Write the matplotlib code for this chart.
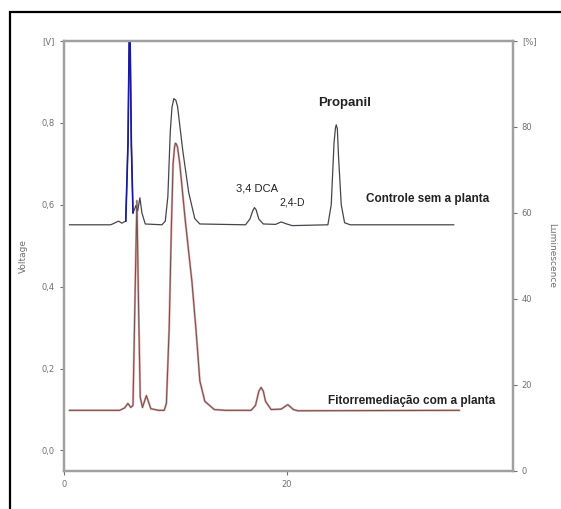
import matplotlib.pyplot as plt
from matplotlib.patches import Rectangle
import numpy as np

# retention time [min] and signal [V]
ctrl_t = [0.5, 4.2, 4.6, 4.9, 5.2, 5.55, 5.75, 5.9, 6.05, 6.2, 6.35, 6.46, 6.62,
          6.82, 7.0, 7.3, 8.8, 9.1, 9.33, 9.55, 9.7, 9.87, 10.05, 10.2, 10.67,
          11.2, 11.75, 12.2, 16.3, 16.7, 16.95, 17.1, 17.25, 17.5, 17.9, 19.0,
          19.5, 20.0, 20.5, 23.7, 24.0, 24.25, 24.38, 24.45, 24.55, 24.65, 24.9,
          25.2, 25.7, 35.0]
ctrl_v = [0.551, 0.551, 0.556, 0.560, 0.555, 0.560, 0.750, 1.100, 0.750, 0.580,
          0.590, 0.598, 0.585, 0.617, 0.580, 0.553, 0.551, 0.560, 0.620, 0.780,
          0.838, 0.859, 0.855, 0.840, 0.732, 0.630, 0.566, 0.553, 0.551, 0.565,
          0.585, 0.593, 0.588, 0.565, 0.553, 0.552, 0.558, 0.553, 0.549, 0.551,
          0.600, 0.750, 0.788, 0.795, 0.785, 0.720, 0.600, 0.556, 0.551, 0.551]

fito_t = [0.5, 5.0, 5.45, 5.74, 6.0, 6.2, 6.4, 6.55, 6.7, 6.85, 7.05, 7.4, 7.8,
          8.5, 9.0, 9.2, 9.45, 9.65, 9.8, 9.92, 10.0, 10.1, 10.2, 10.4, 10.9,
          11.5, 11.9, 12.2, 12.65, 13.5, 14.5, 16.8, 17.2, 17.5, 17.7, 17.9,
          18.1, 18.6, 19.5, 20.1, 20.6, 21.0, 35.5]
fito_v = [0.098, 0.098, 0.104, 0.115, 0.105, 0.110, 0.400, 0.610, 0.350, 0.130,
          0.105, 0.134, 0.102, 0.098, 0.098, 0.115, 0.300, 0.550, 0.700, 0.738,
          0.750, 0.748, 0.740, 0.700, 0.560, 0.410, 0.280, 0.170, 0.120, 0.100,
          0.098, 0.098, 0.110, 0.145, 0.154, 0.145, 0.120, 0.100, 0.101, 0.112,
          0.100, 0.097, 0.098]

left_ticks = [0.0, 0.2, 0.4, 0.6, 0.8, 1.0]
left_labels = ['0,0', '0,2', '0,4', '0,6', '0,8', '[V]']
right_ticks = [0, 20, 40, 60, 80, 100]
right_labels = ['0', '20', '40', '60', '80', '[%]']
x_ticks = [0, 20]

fig = plt.figure(figsize=(5.61, 5.09), dpi=100)
ax = fig.add_axes([0.114, 0.0747, 0.8, 0.845])

spine_col = '#a0a0a0'
tick_col = '#707070'

ctrl_t = np.array(ctrl_t)
ctrl_v = np.array(ctrl_v)
ax.plot(ctrl_t, ctrl_v, color='#45454c', lw=0.9)
m = (ctrl_t >= 5.55) & (ctrl_t <= 6.2)
ax.plot(ctrl_t[m], ctrl_v[m], color='#1a1aa0', lw=1.2)

ax.plot(fito_t, fito_v, color='#d23030', lw=1.6, alpha=0.4)
ax.plot(fito_t, fito_v, color='#705555', lw=0.8)

ax.set_xlim(0, 40.3)
ax.set_ylim(-0.05, 1.0)
ax.set_xticks(x_ticks)
ax.set_yticks(left_ticks)
ax.set_yticklabels(left_labels)
ax.set_ylabel('Voltage', fontsize=6.5, color=tick_col, labelpad=10)

ax2 = ax.twinx()
ax2.set_ylim(0, 100)
ax2.set_yticks(right_ticks)
ax2.set_yticklabels(right_labels)
ax2.set_ylabel('Luminescence', fontsize=6.5, color=tick_col, rotation=270, labelpad=14)

for a in (ax, ax2):
    for s in a.spines.values():
        s.set_color(spine_col)
        s.set_linewidth(1.6)
    a.tick_params(colors=tick_col, labelsize=6, length=3, width=0.8)

txt = dict(color='#222222', family='Liberation Sans')
ax.text(25.2, 0.849, 'Propanil', ha='center', va='center', fontsize=9.5,
        fontweight='bold', **txt)
ax.text(17.3, 0.639, '3,4 DCA', ha='center', va='center', fontsize=8, **txt)
ax.text(20.5, 0.605, '2,4-D', ha='center', va='center', fontsize=7.5, **txt)
ax.text(27.1, 0.615, 'Controle sem a planta', ha='left', va='center', fontsize=8.5,
        fontweight='bold', **txt)
ax.text(23.7, 0.122, 'Fitorremediação com a planta', ha='left', va='center',
        fontsize=8.5, fontweight='bold', **txt)

fig.add_artist(Rectangle((10 / 561, -0.2), 1.2, 1 - 12 / 509 + 0.2,
                         transform=fig.transFigure, fill=False,
                         edgecolor='black', lw=1.6, clip_on=False))

fig.savefig('out.png', dpi=100)
